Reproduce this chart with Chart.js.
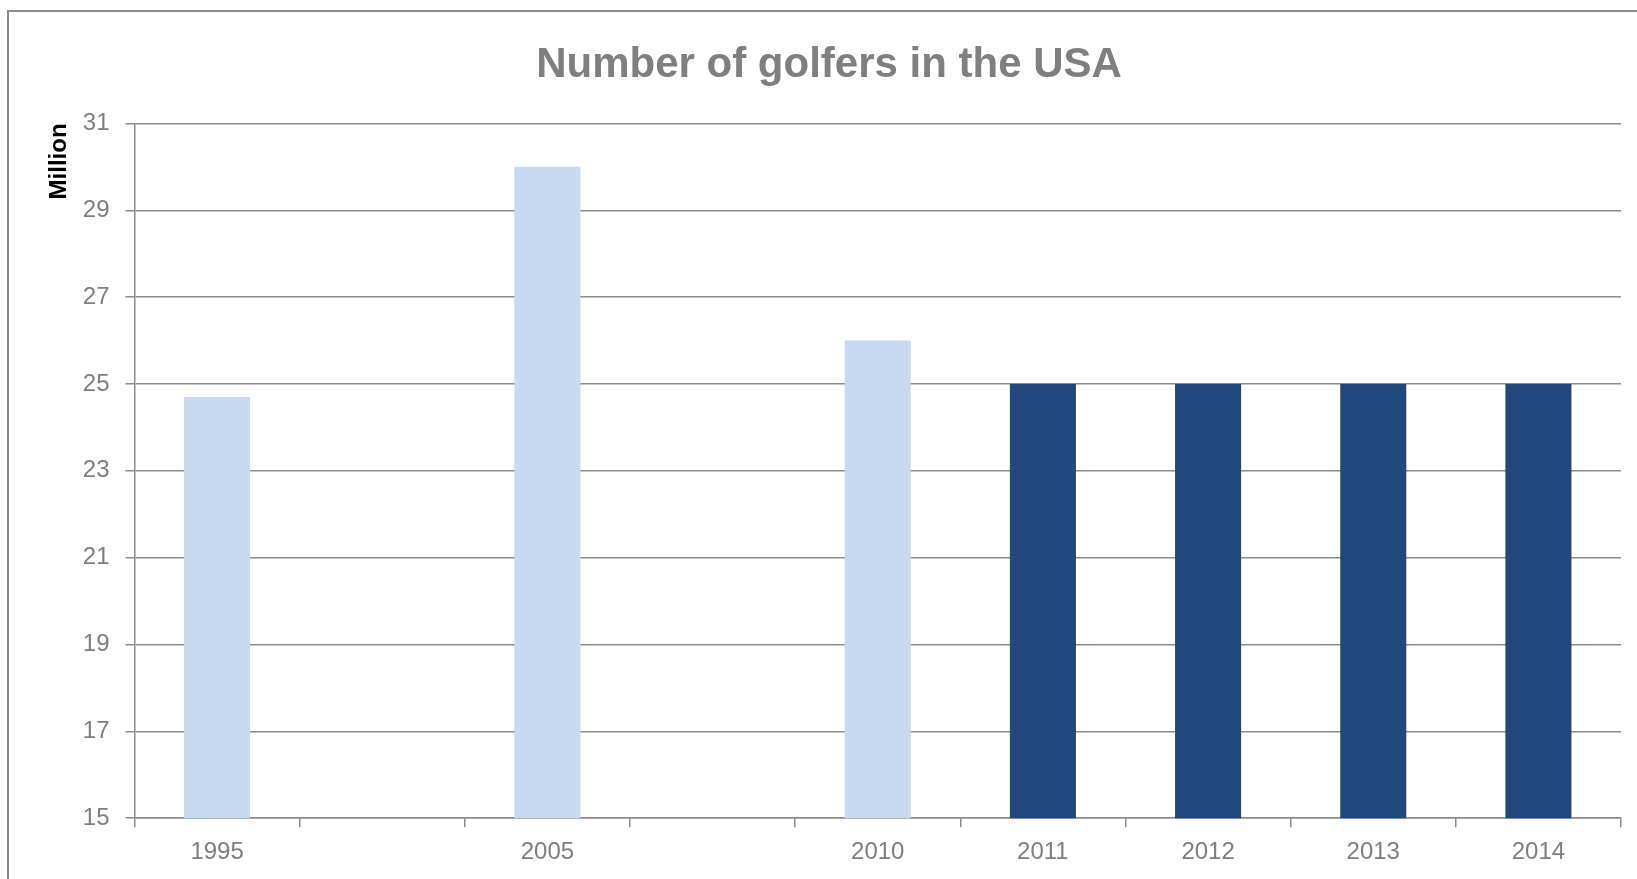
<!DOCTYPE html>
<html>
<head>
<meta charset="utf-8">
<title>Number of golfers in the USA</title>
<script src="https://cdn.jsdelivr.net/npm/chart.js@4/dist/chart.umd.min.js"></script>
<style>
  html, body { margin: 0; padding: 0; background: #fff; overflow: hidden; }
  #wrap { position: relative; width: 1637px; height: 879px; }
  #frame {
    position: absolute; left: 7px; top: 10px; right: -20px; bottom: -20px;
    border-top: 2px solid #8a8a8a; border-left: 2px solid #8a8a8a;
    pointer-events: none;
  }
</style>
</head>
<body>
<div id="wrap">
  <canvas id="chart"></canvas>
  <div id="frame"></div>
</div>
<script>
// -------------------------------------------------------
// DATA
const years = ["1995", "", "2005", "", "2010", "2011", "2012", "2013", "2014"];
const golfers = [24.7, null, 30, null, 26, 25, 25, 25, 25]; // million
const barColors = ["#c6d9f1", "#c6d9f1", "#c6d9f1", "#c6d9f1", "#c6d9f1",
                   "#1f497d", "#1f497d", "#1f497d", "#1f497d"];
const yMin = 15;
const yMax = 31;
const yStep = 2;

const GRID = "#8c8c8c";
const TEXT = "#7f7f7f";
const FONT = "'Liberation Sans', Arial, sans-serif";

// -------------------------------------------------------
// CHART
new Chart(document.getElementById("chart"), {
  type: "bar",
  data: {
    labels: years,
    datasets: [{
      label: "Golfers",
      data: golfers,
      backgroundColor: barColors,
      barPercentage: 0.4,
      categoryPercentage: 1.0,
    }],
  },
  options: {
    responsive: true,
    maintainAspectRatio: false,
    animation: false,
    layout: { padding: { left: 37, right: 16, top: 0, bottom: 1 } },
    plugins: {
      legend: { display: false },
      tooltip: { enabled: false },
      title: {
        display: true,
        text: "Number of golfers in the USA",
        color: TEXT,
        font: { family: FONT, size: 42, weight: "bold" },
        padding: { top: 40, bottom: 33 },
      },
    },
    scales: {
      x: {
        offset: true,
        grid: {
          offset: true,
          drawOnChartArea: false,
          drawTicks: true,
          tickLength: 9,
          tickColor: GRID,
          lineWidth: 1.5,
        },
        border: { color: GRID, width: 1.5 },
        ticks: {
          color: TEXT,
          padding: 11,
          maxRotation: 0,
          autoSkip: false,
          font: { family: FONT, size: 24 },
        },
      },
      y: {
        min: yMin,
        max: yMax,
        title: {
          display: true,
          text: "Million",
          align: "end",
          color: "#000",
          font: { family: FONT, size: 24, weight: "bold" },
          padding: { top: 8, bottom: -7 },
        },
        grid: {
          color: GRID,
          lineWidth: 1.5,
          tickLength: 9,
          tickColor: GRID,
        },
        border: { color: GRID, width: 1.5 },
        ticks: {
          stepSize: yStep,
          color: TEXT,
          padding: 16,
          font: { family: FONT, size: 24 },
        },
      },
    },
  },
});
</script>
</body>
</html>
